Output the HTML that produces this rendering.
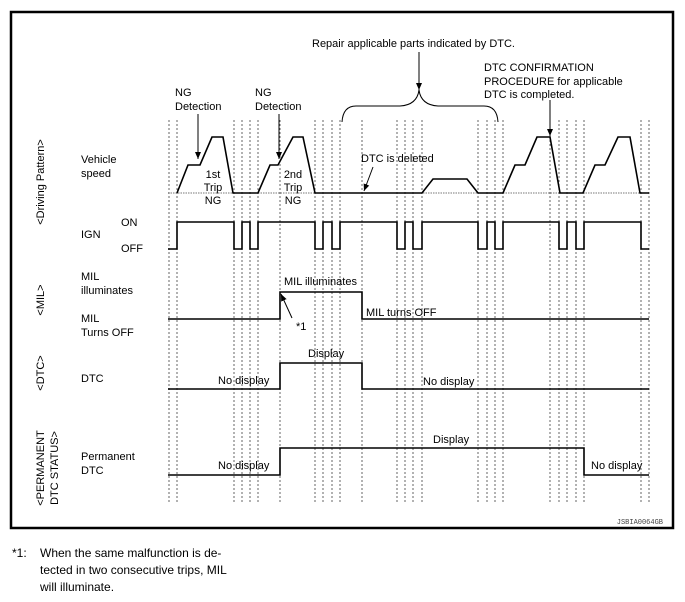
<!DOCTYPE html>
<html><head><meta charset="utf-8"><style>
html,body{margin:0;padding:0;background:#fff;}
svg{display:block;font-family:"Liberation Sans",Arial,sans-serif;}
</style></head><body>
<svg width="685" height="602" viewBox="0 0 685 602" xmlns="http://www.w3.org/2000/svg">
<defs><marker id="ah" markerWidth="8" markerHeight="8" refX="7" refY="4" orient="auto" markerUnits="userSpaceOnUse"><path d="M0,1 L7,4 L0,7 Z" fill="#000"/></marker></defs>
<rect x="11" y="12" width="662" height="516" fill="none" stroke="#000" stroke-width="2.5"/>
<g stroke="#666" stroke-width="1" stroke-dasharray="2,2">
<path d="M169 120V503M177 120V503M234 120V503M242 120V503M250 120V503M258 120V503M280 120V503M315 120V503M323 120V503M332 120V503M340 120V503M362 120V503M397 120V503M405 120V503M413 120V503M422 120V503M478 120V503M487 120V503M495 120V503M503 120V503M550 120V503M559 120V503M567 120V503M576 120V503M584 120V503M641 120V503M649 120V503"/>
</g>
<line x1="168" y1="193" x2="649" y2="193" stroke="#777" stroke-width="1" stroke-dasharray="1.5,1"/>
<g fill="none" stroke="#000" stroke-width="1.6">
<path d="M177 193L188 165H200L212 137H223L233 193H258L270 165H278L293 137H303L315 193H422L433 179H467L478 193H503L515 165H525L537 137H550L560 193H583L595 165H605L618 137H630L640 193H649"/>
<path d="M168 249H177V222H234V249H242V222H250V249H258V222H315V249H323V222H332V249H340V222H397V249H405V222H413V249H422V222H478V249H487V222H495V249H503V222H559V249H567V222H576V249H584V222H641V249H649"/>
<path d="M168 319H280V292H362V319H649"/>
<path d="M168 389H280V363H362V389H649"/>
<path d="M168 475H280V448H584V475H649"/>
</g>
<g stroke="#000" stroke-width="1" fill="none">
<line x1="198" y1="114" x2="198" y2="159" marker-end="url(#ah)"/>
<line x1="279" y1="114" x2="279" y2="159" marker-end="url(#ah)"/>
<line x1="419" y1="52" x2="419" y2="90" marker-end="url(#ah)"/>
<line x1="550" y1="100" x2="550" y2="136" marker-end="url(#ah)"/>
<line x1="373" y1="167" x2="364" y2="191" marker-end="url(#ah)"/>
<line x1="292" y1="318" x2="281" y2="294" marker-end="url(#ah)"/>
<path d="M419 90 Q417 105 400 106 H356 Q343 106 342 122"/>
<path d="M419 90 Q421 105 438 106 H484 Q497 106 498 122"/>
</g>
<g font-size="11" fill="#000">
<text x="312" y="47">Repair applicable parts indicated by DTC.</text>
<text x="484" y="71">DTC CONFIRMATION</text>
<text x="484" y="85">PROCEDURE for applicable</text>
<text x="484" y="98">DTC is completed.</text>
<text x="175" y="96">NG</text><text x="175" y="110">Detection</text>
<text x="255" y="96">NG</text><text x="255" y="110">Detection</text>
<text x="213" y="178" text-anchor="middle">1st</text><text x="213" y="191" text-anchor="middle">Trip</text><text x="213" y="204" text-anchor="middle">NG</text>
<text x="293" y="178" text-anchor="middle">2nd</text><text x="293" y="191" text-anchor="middle">Trip</text><text x="293" y="204" text-anchor="middle">NG</text>
<text x="361" y="162">DTC is deleted</text>
<text x="284" y="285">MIL illuminates</text>
<text x="296" y="330">*1</text>
<text x="366" y="316">MIL turns OFF</text>
<text x="308" y="357">Display</text>
<text x="218" y="384">No display</text>
<text x="423" y="385">No display</text>
<text x="433" y="443">Display</text>
<text x="218" y="469">No display</text>
<text x="591" y="469">No display</text>
<text x="81" y="163">Vehicle</text><text x="81" y="177">speed</text>
<text x="121" y="226">ON</text><text x="81" y="238">IGN</text><text x="121" y="252">OFF</text>
<text x="81" y="280">MIL</text><text x="81" y="294">illuminates</text>
<text x="81" y="322">MIL</text><text x="81" y="336">Turns OFF</text>
<text x="81" y="382">DTC</text>
<text x="81" y="460">Permanent</text><text x="81" y="474">DTC</text>
<text transform="translate(44,182) rotate(-90)" text-anchor="middle">&lt;Driving Pattern&gt;</text>
<text transform="translate(44,300) rotate(-90)" text-anchor="middle">&lt;MIL&gt;</text>
<text transform="translate(44,373) rotate(-90)" text-anchor="middle">&lt;DTC&gt;</text>
<text transform="translate(44,468) rotate(-90)" text-anchor="middle">&lt;PERMANENT</text>
<text transform="translate(58,468) rotate(-90)" text-anchor="middle">DTC STATUS&gt;</text>
</g>
<text x="663" y="524" font-size="7" font-family="Liberation Mono,monospace" fill="#444" text-anchor="end">JSBIA0064GB</text>
<g font-size="12" fill="#000">
<text x="12" y="557">*1:</text>
<text x="40" y="557">When the same malfunction is de-</text>
<text x="40" y="574">tected in two consecutive trips, MIL</text>
<text x="40" y="591">will illuminate.</text>
</g>
</svg>
</body></html>
